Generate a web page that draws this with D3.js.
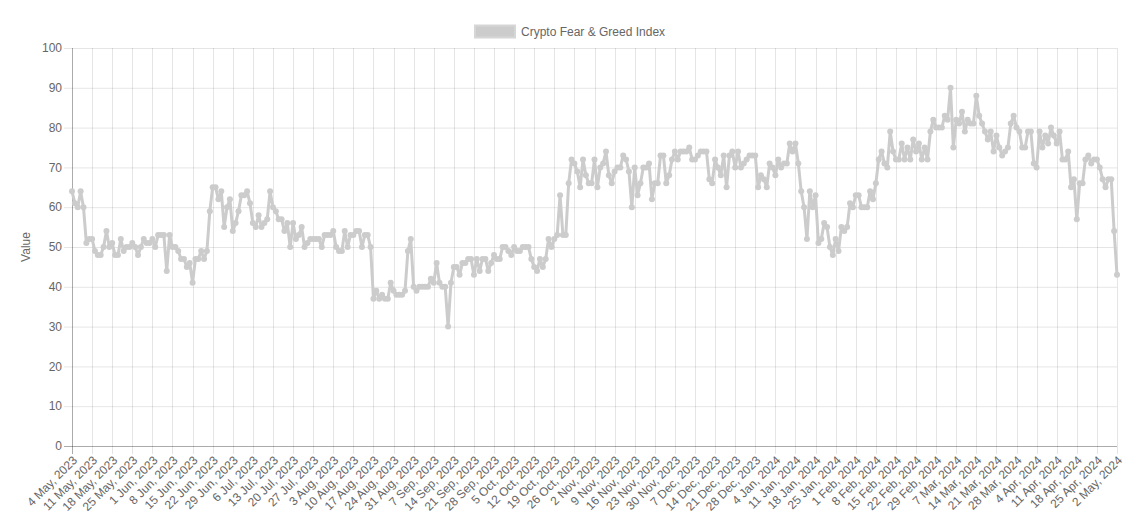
<!DOCTYPE html>
<html><head><meta charset="utf-8">
<script src="https://cdn.jsdelivr.net/npm/d3@7"></script>
<style>
body{margin:0;background:#fff;}
text{font-family:"Liberation Sans",Arial,Helvetica,sans-serif;}
</style></head>
<body><svg id="c" width="1142" height="528"></svg>
<script>
const seriesName = "Crypto Fear & Greed Index";
const startDate = "2023-05-04";
const yTicks = [0,10,20,30,40,50,60,70,80,90,100];
const values = [
64,61,60,64,60,51,52,52,49,48,48,50,54,50,51,48,48,52,49,50,50,51,50,48,50,52,51,51,52,50,
53,53,53,44,53,50,50,49,47,47,45,46,41,47,47,49,47,49,59,65,65,62,64,55,60,62,54,56,59,63,
63,64,61,56,55,58,55,56,57,64,60,59,57,57,54,56,50,56,52,53,55,50,51,52,52,52,52,50,53,53,
53,54,50,49,49,54,50,53,53,54,54,50,53,53,50,37,39,37,38,37,37,41,39,38,38,38,39,49,52,40,
39,40,40,40,40,42,41,46,41,40,40,30,41,45,45,43,46,46,47,47,43,47,44,47,47,44,46,48,47,47,
50,50,49,48,50,49,49,50,50,50,47,45,44,47,45,47,52,50,52,53,63,53,53,66,72,71,69,65,72,68,
66,66,72,65,70,71,74,68,66,69,70,70,73,72,69,60,70,63,66,70,70,71,62,66,66,73,73,66,68,72,
74,72,74,74,74,75,72,72,73,74,74,74,67,66,72,70,68,73,65,73,74,70,74,70,71,72,73,73,73,65,
68,67,65,71,70,68,72,70,71,71,76,74,76,71,64,60,52,64,60,63,51,52,56,55,50,48,52,49,55,54,
55,61,60,63,63,60,60,60,64,62,66,72,74,71,70,79,74,72,72,76,72,75,72,77,74,76,72,75,72,79,
82,80,80,80,83,82,90,75,82,81,84,79,82,81,81,88,83,81,79,77,79,74,78,75,73,74,75,81,83,80,
79,75,75,79,79,71,70,79,75,78,76,80,78,76,79,72,72,74,65,67,57,66,66,72,73,71,72,72,70,67,
65,67,67,54,43
];

const parse = d3.timeParse("%Y-%m-%d");
const fmt = d3.timeFormat("%-d %b, %Y");
const d0 = parse(startDate);
const labels = values.map((v,i)=>fmt(d3.timeDay.offset(d0,i)));
const data = values.map((v,i)=>({label:labels[i], value:v, i}));

const svg = d3.select("#c");
const L = 72, R = 1117, T = 48, B = 446;
const x = d3.scalePoint().domain(labels).range([L,R]);
const y = d3.scaleLinear().domain([0,100]).range([B,T]);

const tickLabels = labels.filter((d,i)=>i%7===0);

// grid
const g = svg.append("g");
g.selectAll(".hg").data(yTicks).enter().append("line")
 .attr("x1",L-8).attr("x2",R).attr("y1",d=>y(d)+0.5).attr("y2",d=>y(d)+0.5)
 .attr("stroke","rgba(0,0,0,0.1)").attr("stroke-width",1);
g.selectAll(".vg").data(tickLabels).enter().append("line")
 .attr("x1",d=>Math.round(x(d))+0.5).attr("x2",d=>Math.round(x(d))+0.5).attr("y1",T).attr("y2",B+8)
 .attr("stroke","rgba(0,0,0,0.1)").attr("stroke-width",1);
// axis lines
svg.append("line").attr("x1",L+0.5).attr("x2",L+0.5).attr("y1",T).attr("y2",B+8).attr("stroke","rgba(0,0,0,0.25)");
svg.append("line").attr("x1",L-8).attr("x2",R).attr("y1",B+0.5).attr("y2",B+0.5).attr("stroke","rgba(0,0,0,0.25)");

// y tick labels
svg.selectAll(".yt").data(yTicks).enter().append("text")
 .attr("x",L-10).attr("y",d=>y(d)).attr("dy","0.35em").attr("text-anchor","end")
 .attr("font-size",12).attr("fill","#666").text(d=>d);
// x tick labels
svg.selectAll(".xt").data(tickLabels).enter().append("text")
 .attr("transform",d=>`translate(${x(d)+3},${B+12}) rotate(-45)`)
 .attr("text-anchor","end").attr("dy","0.35em").attr("font-size",12).attr("fill","#666").text(d=>d);
// y title
svg.append("text").attr("transform",`translate(30,${(T+B)/2}) rotate(-90)`)
 .attr("text-anchor","middle").attr("font-size",12).attr("fill","#666").text("Value");

// line
const line = d3.line().x(d=>x(d.label)).y(d=>y(d.value));
svg.append("path").datum(data).attr("d",line).attr("fill","none")
 .attr("stroke","#cccccc").attr("stroke-width",3).attr("stroke-linejoin","round");
svg.selectAll(".pt").data(data).enter().append("circle")
 .attr("cx",d=>x(d.label)).attr("cy",d=>y(d.value)).attr("r",3).attr("fill","#cccccc");

// legend
svg.append("rect").attr("x",475).attr("y",25.5).attr("width",40).attr("height",12)
 .attr("fill","#cccccc").attr("stroke","#d6d6d6").attr("stroke-width",2);
svg.append("text").attr("x",521).attr("y",31.5).attr("dy","0.35em").attr("font-size",12)
 .attr("fill","#666").text(seriesName);
</script></body></html>
